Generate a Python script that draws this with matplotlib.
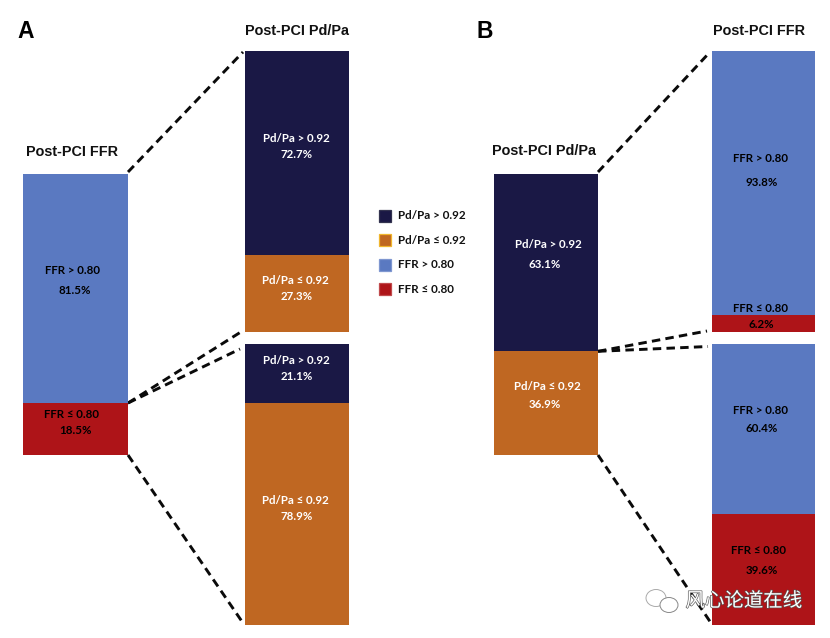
import matplotlib
matplotlib.use('Agg')
import matplotlib.pyplot as plt
import matplotlib.patheffects as pe
from matplotlib.patches import Rectangle, Ellipse

plt.rcParams['font.family'] = ['Lato', 'DejaVu Sans']

navy = '#1a1845'
orange = '#bf6722'
blue = '#5a79c1'
red = '#ae1418'

# percentages, lower segment first
a_main = [18.5, 81.5]
a_upper = [27.3, 72.7]
a_lower = [78.9, 21.1]
b_main = [36.9, 63.1]
b_upper = [6.2, 93.8]
b_lower = [39.6, 60.4]

ffr_labels = ['FFR ≤ 0.80', 'FFR > 0.80']
pd_labels = ['Pd/Pa ≤ 0.92', 'Pd/Pa > 0.92']
legend_labels = ['Pd/Pa > 0.92', 'Pd/Pa ≤ 0.92', 'FFR > 0.80', 'FFR ≤ 0.80']
legend_colors = [navy, orange, blue, red]
legend_edges = ['#33334f', '#f0b62e', '#7f97d0', '#c04a4c']

fig = plt.figure(figsize=(8.30, 6.38), dpi=100)
ax = fig.add_axes([0, 0, 1, 1])
ax.set_xlim(0, 830)
ax.set_ylim(638, 0)
ax.axis('off')

H = 281


def stack(x0, x1, y_bottom, values, colors):
    # stacked column, first value at the bottom
    y = y_bottom
    splits = []
    for v, c in zip(values, colors):
        h = H * v / 100
        ax.bar((x0 + x1) / 2, -h, x1 - x0, bottom=y, color=c, edgecolor='none', zorder=2)
        y -= h
        splits.append(y)
    return splits[0]


def dash(x0, y0, x1, y1):
    ax.plot([x0, x1], [y0, y1], color='#0a0a0a', lw=2.1, dashes=(2.9, 1.8), zorder=1)


def label(x, y, s, color):
    ax.text(x, y, s, color=color, fontsize=8.3, fontweight='bold', ha='center', va='center', zorder=3)


# panel A
s_main = stack(23, 128, 455, a_main, [red, blue])
stack(245, 349, 332, a_upper, [orange, navy])
stack(245, 349, 625, a_lower, [orange, navy])
dash(128, 172, 243, 52)
dash(128, s_main, 244, 330)
dash(128, s_main, 240, 349)
dash(128, 455, 243, 623)

# panel B
s_main = stack(494, 598, 455, b_main, [orange, navy])
stack(712, 815, 332, b_upper, [red, blue])
stack(712, 815, 625, b_lower, [red, blue])
dash(598, 172, 710, 52)
dash(598, s_main, 707, 331)
dash(598, s_main, 708, 346.5)
dash(598, 455, 711, 623)

# bar labels
label(72, 271, ffr_labels[1], 'black')
label(75, 290, f'{a_main[1]}%', 'black')
label(71, 415, ffr_labels[0], 'black')
label(75, 431, f'{a_main[0]}%', 'black')
label(296, 139, pd_labels[1], 'white')
label(297, 155, f'{a_upper[1]}%', 'white')
label(295, 280, pd_labels[0], 'white')
label(297, 296, f'{a_upper[0]}%', 'white')
label(296, 360, pd_labels[1], 'white')
label(297, 376, f'{a_lower[1]}%', 'white')
label(295, 501, pd_labels[0], 'white')
label(297, 516, f'{a_lower[0]}%', 'white')

label(548, 245, pd_labels[1], 'white')
label(545, 264, f'{b_main[1]}%', 'white')
label(547, 386, pd_labels[0], 'white')
label(545, 404, f'{b_main[0]}%', 'white')
label(760, 159, ffr_labels[1], 'black')
label(762, 183, f'{b_upper[1]}%', 'black')
label(760, 309, ffr_labels[0], 'black')
label(761, 324, f'{b_upper[0]}%', 'black')
label(760, 410, ffr_labels[1], 'black')
label(762, 429, f'{b_lower[1]}%', 'black')
label(758, 550, ffr_labels[0], 'black')
label(762, 570, f'{b_lower[0]}%', 'black')

# titles
for x, y, s in [(72, 152, 'Post-PCI FFR'), (297, 31, 'Post-PCI Pd/Pa'),
                (544, 151, 'Post-PCI Pd/Pa'), (759, 31, 'Post-PCI FFR')]:
    ax.text(x, y, s, family='Liberation Sans', fontsize=10.4, fontweight='bold',
            ha='center', va='center', color='#111111')
ax.text(26, 32, 'A', family='Liberation Sans', fontsize=16.5, fontweight='bold', ha='center', va='center')
ax.text(485, 32, 'B', family='Liberation Sans', fontsize=16.5, fontweight='bold', ha='center', va='center')

# legend
for i, (s, c, e) in enumerate(zip(legend_labels, legend_colors, legend_edges)):
    y = 215 + i * 24.6
    ax.add_patch(Rectangle((379, y - 5.5), 12, 12, facecolor=c, edgecolor=e, lw=0.9))
    ax.text(398, y + 0.8, s, fontsize=8.4, fontweight='bold', va='center', color='#111111')

# watermark
ax.text(744, 601, '风心论道在线', family=['Noto Sans CJK SC', 'DejaVu Sans'], fontsize=14,
        color='white', ha='center', va='center', zorder=6,
        path_effects=[pe.withStroke(linewidth=0.9, foreground='#555555')])
ax.add_patch(Ellipse((656, 598), 20, 17, facecolor='white', edgecolor='#aaaaaa', lw=0.7, zorder=5))
ax.add_patch(Ellipse((669, 605), 18, 15, facecolor='white', edgecolor='#888888', lw=0.7, zorder=5))

fig.savefig('out.png', dpi=100)
